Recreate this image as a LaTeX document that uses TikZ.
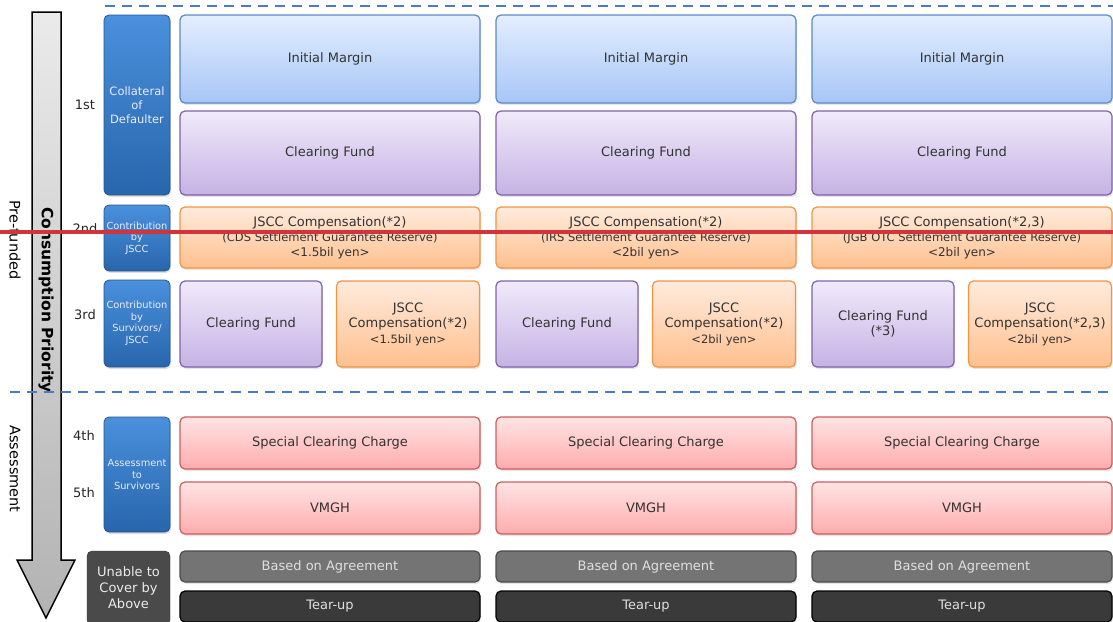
\documentclass[tikz,border=0pt]{standalone}
\usepackage{fontspec}
\setmainfont{DejaVu Sans}
\usetikzlibrary{shadows}
\definecolor{dashblue}{HTML}{4A7CC4}
\definecolor{celltext}{HTML}{333333}
\definecolor{imtop}{HTML}{E4EEFF}\definecolor{imbot}{HTML}{A6C6F6}\definecolor{imborder}{HTML}{5C88C4}
\definecolor{cftop}{HTML}{F0EAFA}\definecolor{cfbot}{HTML}{C6B2E4}\definecolor{cfborder}{HTML}{7E62A8}
\definecolor{cotop}{HTML}{FFEBDD}\definecolor{cobot}{HTML}{FFC08E}\definecolor{coborder}{HTML}{F29442}
\definecolor{sctop}{HTML}{FFE4E4}\definecolor{scbot}{HTML}{FFACAC}\definecolor{scborder}{HTML}{CE5C5C}
\definecolor{tiertop}{HTML}{4A90DC}\definecolor{tierbot}{HTML}{2866AC}\definecolor{tierborder}{HTML}{24568E}
\definecolor{agfill}{HTML}{747474}\definecolor{tufill}{HTML}{3A3A3A}\definecolor{unfill}{HTML}{4A4A4A}
\definecolor{markred}{HTML}{D2343C}
\tikzset{
  cell/.style={rounded corners=5pt, line width=1.2pt, minimum width=300pt, inner sep=0pt,
    align=center, text=celltext, font=\fontsize{13}{15.5}\selectfont,
    drop shadow={opacity=0.2, shadow xshift=1pt, shadow yshift=-2pt}},
  margin/.style={cell, draw=imborder, top color=imtop, bottom color=imbot},
  fund/.style={cell, draw=cfborder, top color=cftop, bottom color=cfbot},
  comp/.style={cell, draw=coborder, top color=cotop, bottom color=cobot},
  charge/.style={cell, draw=scborder, top color=sctop, bottom color=scbot},
  agree/.style={cell, draw=black!70, fill=agfill, text=black!12},
  tearup/.style={cell, draw=black, fill=tufill, text=black!12},
  tier/.style={rounded corners=5pt, line width=0.8pt, draw=tierborder, top color=tiertop,
    bottom color=tierbot, minimum width=66pt, inner sep=0pt, align=center,
    text=white!92!blue, font=\fontsize{9.8}{11.5}\selectfont,
    drop shadow={opacity=0.25, shadow xshift=1pt, shadow yshift=-2pt}},
  rank/.style={font=\fontsize{13}{15}\selectfont, text=black!85},
  side/.style={rotate=-90, font=\fontsize{14.5}{16}\selectfont},
  divider/.style={dashblue, line width=2pt, dash pattern=on 10pt off 7pt},
  arrowbody/.style={draw=black, line width=1.5pt, top color=black!8, bottom color=black!30}
}
\begin{document}
\begin{tikzpicture}[x=1pt,y=-1pt]
\useasboundingbox (0,0) rectangle (1113,621);
% priority arrow
\draw[arrowbody] (32,12) -- (61,12) -- (61,560) -- (75,560) -- (46,618) -- (17,560) -- (32,560) -- cycle;
\node[rotate=-90, font=\bfseries\fontsize{15.5}{17}\selectfont] (prio) at (46,300) {Consumption Priority};
\node[side] (pre) at (15,240) {Pre-funded};
\node[side] (ass) at (15,469) {Assessment};
% dividers
\draw[divider] (105,6) -- (1113,6);
\draw[divider] (10,392) -- (1113,392);
% ranks and tiers
\node[rank] (r1) at (85,105) {1st};
\node[rank] (r2) at (85,229) {2nd};
\node[rank] (r3) at (85,315) {3rd};
\node[rank] (r4) at (84,436) {4th};
\node[rank] (r5) at (84,493) {5th};
\node[tier, minimum height=180pt, font=\fontsize{11.5}{14}\selectfont] (t1) at (137,105) {Collateral\\of\\Defaulter};
\node[tier, minimum height=66pt] (t2) at (137,238) {Contribution\\by\\JSCC};
\node[tier, minimum height=87pt] (t3) at (137,323.5) {Contribution\\by\\Survivors/\\JSCC};
\node[tier, minimum height=115pt] (t4) at (137,474.5) {Assessment\\to\\Survivors};
\node[rounded corners=5pt, draw=black!80, fill=unfill, minimum width=83pt, minimum height=74pt,
  inner sep=0pt, align=center, text=black!8, font=\fontsize{13}{16}\selectfont] (un) at (128.5,588) {Unable to\\Cover by\\Above};
% columns
\foreach \x/\c/\desk/\amt/\note/\cfx in {180/1/CDS/1.5/{*2}/{}, 496/2/IRS/2/{*2}/{}, 812/3/JGB OTC/2/{*2,3}/{\\(*3)}}{
  \node[margin, minimum height=88pt] (im\c) at ({\x+150},59) {Initial Margin};
  \node[fund, minimum height=84pt] (cf\c) at ({\x+150},153) {Clearing Fund};
  \node[comp, minimum height=61pt, font=\fontsize{12}{15}\selectfont] (co\c) at ({\x+150},237.5)
    {{\fontsize{13}{15}\selectfont JSCC Compensation(\note)}\\{\fontsize{11.5}{15}\selectfont(\desk\ Settlement Guarantee Reserve)}\\<\amt bil yen>};
  \node[fund, minimum width=142pt, minimum height=86pt] (sf\c) at ({\x+71},324) {Clearing Fund\cfx};
  \node[comp, minimum width=143pt, minimum height=86pt] (sc\c) at ({\x+228},324)
    {JSCC\\Compensation(\note)\\{\fontsize{11.5}{15}\selectfont<\amt bil yen>}};
  \node[charge, minimum height=52pt] (spc\c) at ({\x+150},443) {Special Clearing Charge};
  \node[charge, minimum height=52pt] (vm\c) at ({\x+150},508) {VMGH};
  \node[agree, minimum height=31pt] (ag\c) at ({\x+150},566.5) {Based on Agreement};
  \node[tearup, minimum height=31pt] (tu\c) at ({\x+150},606.5) {Tear-up};
}
% marker line
\draw[markred, line width=4pt] (0,232) -- (1113,232);
\end{tikzpicture}
\end{document}
